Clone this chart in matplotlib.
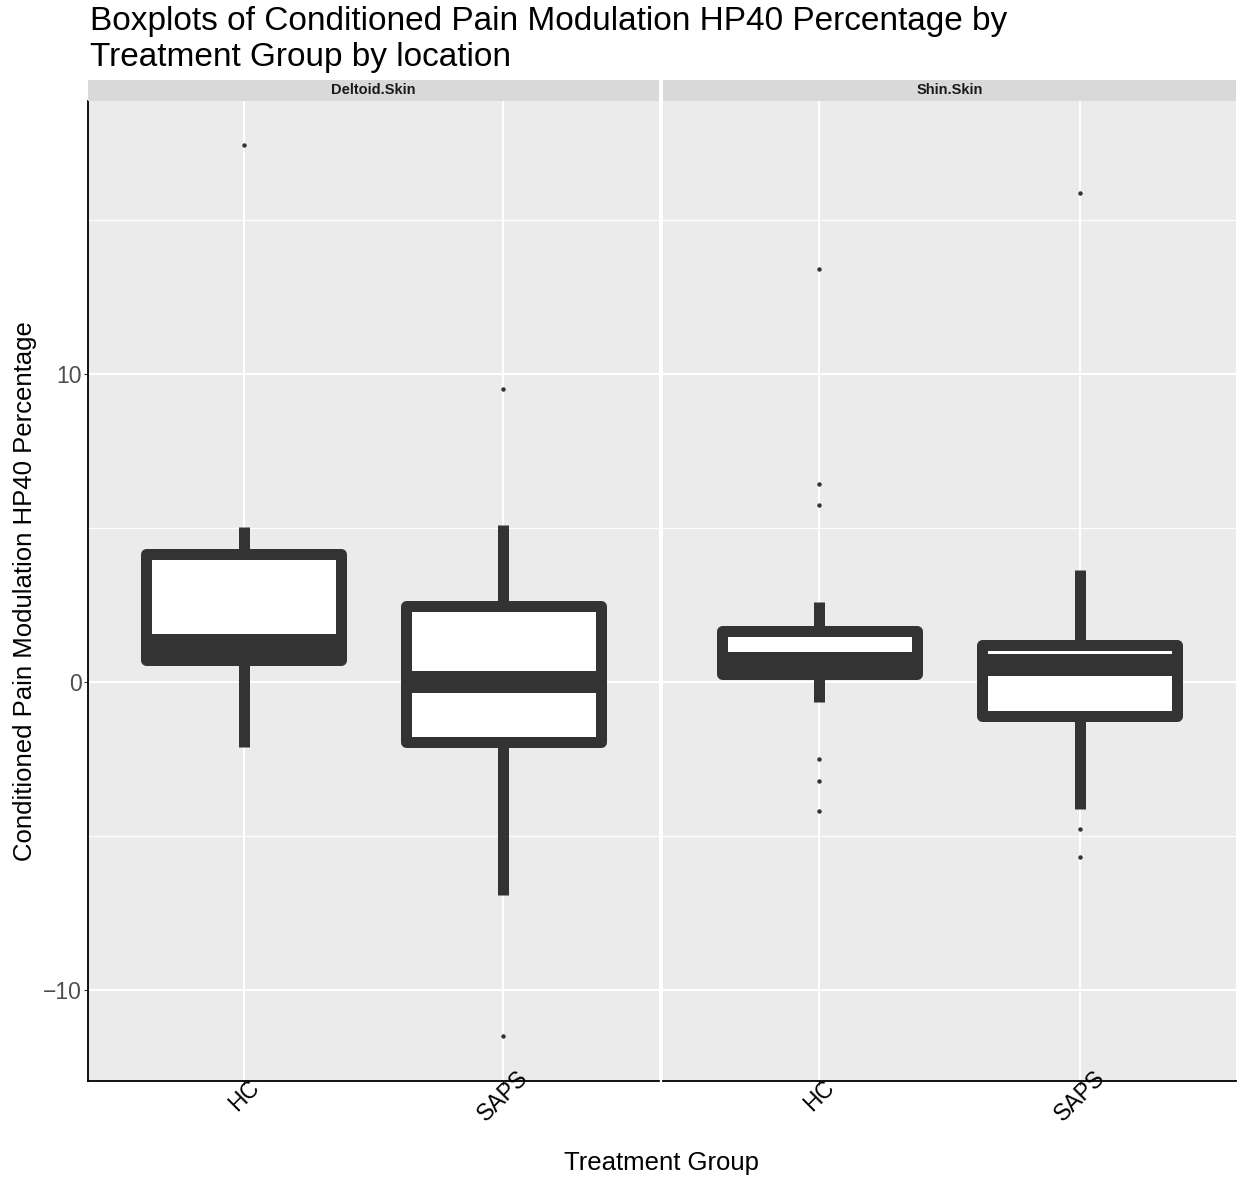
import matplotlib.pyplot as plt
import numpy as np

plt.rcParams['font.family'] = ['Liberation Sans', 'DejaVu Sans']

# Data (box stats per location and treatment group)
locations = ['Deltoid.Skin', 'Shin.Skin']
groups = ['HC', 'SAPS']

q1 = {'Deltoid.Skin': [0.72, -1.94], 'Shin.Skin': [0.26, -1.09]}
med = {'Deltoid.Skin': [1.21, 0.01], 'Shin.Skin': [0.62, 0.55]}
q3 = {'Deltoid.Skin': [4.14, 2.48], 'Shin.Skin': [1.66, 1.19]}
whislo = {'Deltoid.Skin': [-2.1, -6.9], 'Shin.Skin': [-0.64, -4.12]}
whishi = {'Deltoid.Skin': [5.04, 5.1], 'Shin.Skin': [2.59, 3.64]}
outliers = {
    'Deltoid.Skin': [[17.43], [9.51, -11.49]],
    'Shin.Skin': [[13.41, 6.43, 5.75, -2.5, -3.21, -4.19], [15.88, -4.77, -5.68]],
}

dark = '#333333'
px = 72 / 100  # one pixel in points at dpi 100

fig = plt.figure(figsize=(12.39, 11.77), dpi=100)
W, H = 1239, 1177

panels = [(88, 659), (663, 1236)]
top, bottom = 101, 1081
strip_top = 80

axes = []
for i, loc in enumerate(locations):
    x0, x1 = panels[i]
    ax = fig.add_axes([x0 / W, 1 - bottom / H, (x1 - x0) / W, (bottom - top) / H])
    axes.append(ax)
    ax.set_facecolor('#EBEBEB')

    stats = []
    for j, g in enumerate(groups):
        stats.append(dict(med=med[loc][j], q1=q1[loc][j], q3=q3[loc][j],
                          whislo=whislo[loc][j], whishi=whishi[loc][j],
                          fliers=outliers[loc][j], label=g))
    ax.bxp(stats, positions=[1, 2], widths=0.75, patch_artist=True,
           showcaps=False,
           boxprops=dict(facecolor='white', edgecolor=dark, linewidth=11 * px,
                         joinstyle='round'),
           whiskerprops=dict(color=dark, linewidth=11 * px, solid_capstyle='butt'),
           medianprops=dict(color=dark, linewidth=22 * px, solid_capstyle='butt'),
           flierprops=dict(marker='o', markersize=3.2, markerfacecolor=dark,
                           markeredgecolor=dark, markeredgewidth=0),
           zorder=3)

    ax.set_xlim(0.4, 2.6)
    ax.set_ylim(-12.95, 18.86)
    ax.set_yticks([-10, 0, 10])
    ax.set_yticks([-5, 5, 15], minor=True)
    ax.set_xticks([1, 2])
    ax.set_xticklabels(groups, rotation=45, ha='center', va='center', fontsize=16.5)
    ax.grid(True, which='major', color='white', linewidth=1.5, zorder=0)
    ax.grid(True, which='minor', axis='y', color='white', linewidth=0.8, zorder=0)
    ax.set_axisbelow(True)
    for s in ['top', 'right']:
        ax.spines[s].set_visible(False)
    ax.spines['bottom'].set_color('black')
    ax.spines['bottom'].set_linewidth(1.3)
    ax.spines['left'].set_visible(i == 0)
    ax.spines['left'].set_color('black')
    ax.spines['left'].set_linewidth(1.3)
    ax.tick_params(axis='x', length=2.75, color='#333333', pad=8, labelcolor='black')
    ax.tick_params(axis='y', which='major', length=2.75, color='#333333',
                   labelsize=16.5, labelcolor='#4D4D4D', pad=2)
    ax.tick_params(axis='y', which='minor', length=0)
    if i > 0:
        ax.tick_params(axis='y', which='both', left=False, labelleft=False)

    # facet strip
    sax = fig.add_axes([x0 / W, 1 - top / H, (x1 - x0) / W, (top - strip_top) / H])
    sax.set_facecolor('#D9D9D9')
    sax.set_xticks([])
    sax.set_yticks([])
    for s in sax.spines.values():
        s.set_visible(False)
    sax.text(0.5, 0.5, loc, ha='center', va='center', fontsize=10.5,
             fontweight='bold', color='#1A1A1A', transform=sax.transAxes)

fig.text(90 / W, 1 - 6 / H,
         'Boxplots of Conditioned Pain Modulation HP40 Percentage by\nTreatment Group by location',
         ha='left', va='top', fontsize=24, linespacing=1.2)
fig.text(25 / W, 1 - 591 / H, 'Conditioned Pain Modulation HP40 Percentage',
         rotation=90, ha='center', va='center', fontsize=18.5)
fig.text(662 / W, 1 - 1163 / H, 'Treatment Group', ha='center', va='center',
         fontsize=18.5)

fig.savefig('out.png', dpi=100)
